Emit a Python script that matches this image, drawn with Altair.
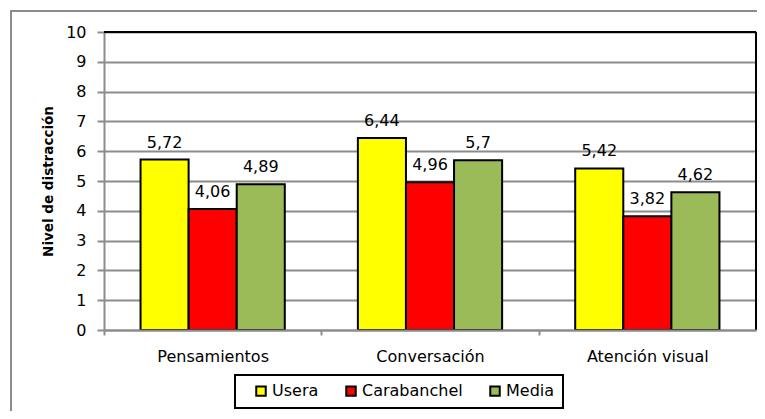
import altair as alt
import pandas as pd

categories = ["Pensamientos", "Conversación", "Atención visual"]
series = ["Usera", "Carabanchel", "Media"]
usera = [5.72, 6.44, 5.42]
carabanchel = [4.06, 4.96, 3.82]
media = [4.89, 5.70, 4.62]
colors = ["#FFFF00", "#FF0000", "#9BBB59"]
y_ticks = list(range(0, 11))

rows = []
for s, vals in zip(series, [usera, carabanchel, media]):
    for c, v in zip(categories, vals):
        rows.append({"categoria": c, "serie": s, "valor": v,
                     "etiqueta": f"{v:g}".replace(".", ",")})
df = pd.DataFrame(rows)

W, H = 652, 298
FONT = "DejaVu Sans"
GRAY = "#8c8c8c"

base = alt.Chart(df).encode(
    x=alt.X("categoria:N", sort=categories,
            scale=alt.Scale(paddingInner=0, paddingOuter=0),
            axis=alt.Axis(title=None, labelAngle=0, grid=False,
                          domainColor=GRAY, domainWidth=2,
                          tickColor=GRAY, tickWidth=2, tickSize=5,
                          tickOffset=-W / 6, labelOffset=W / 6,
                          labelPadding=13, labelFont=FONT, labelFontSize=16,
                          labelColor="black", zindex=1)),
    xOffset=alt.XOffset("serie:N", sort=series,
                        scale=alt.Scale(paddingInner=0, paddingOuter=0.76)),
    y=alt.Y("valor:Q", scale=alt.Scale(domain=[0, 10], nice=False),
            axis=alt.Axis(title="Nivel de distracción", values=y_ticks, format="d",
                          grid=True, gridColor=GRAY, gridWidth=2,
                          domainColor=GRAY, domainWidth=2,
                          tickColor=GRAY, tickWidth=2, tickSize=7,
                          labelPadding=11, labelFont=FONT, labelFontSize=16,
                          labelColor="black",
                          titleFont=FONT, titleFontWeight="bold", titleFontSize=13.5,
                          titleColor="black", titleX=-56, titleY=H / 2,
                          titleAngle=270, titleAlign="center",
                          titleBaseline="middle")),
)

bars = base.mark_bar(stroke="black", strokeWidth=2).encode(
    color=alt.Color("serie:N", sort=series,
                    scale=alt.Scale(domain=series, range=colors),
                    legend=alt.Legend(title=None, orient="none", legendX=131, legendY=343,
                                      direction="horizontal", symbolType="square",
                                      symbolSize=90, symbolStrokeColor="black",
                                      symbolStrokeWidth=2, labelFont=FONT,
                                      labelFontSize=16, labelColor="black",
                                      columnPadding=14, padding=8, labelOffset=3,
                                      symbolOffset=10,
                                      strokeColor="black", fillColor="white"))
)

text = base.mark_text(baseline="alphabetic", dy=-12, fontSize=16, font=FONT,
                      color="black").encode(text="etiqueta:N")

one = pd.DataFrame({"k": [0]})
frame = alt.Chart(one).mark_rect(fillOpacity=0, stroke=GRAY, strokeWidth=2).encode(
    x=alt.value(-93), x2=alt.value(680), y=alt.value(-21), y2=alt.value(420))
top_rule = alt.Chart(one).mark_rule(color="black", strokeWidth=2).encode(
    x=alt.value(0), x2=alt.value(W), y=alt.value(0))
right_rule = alt.Chart(one).mark_rule(color="black", strokeWidth=2).encode(
    x=alt.value(W), y=alt.value(0), y2=alt.value(H))

chart = alt.layer(frame, bars, text, top_rule, right_rule).properties(
    width=W, height=H,
    padding={"left": 96, "top": 24, "right": 1, "bottom": 81},
    autosize=alt.AutoSizeParams(type="none"),
    background="white",
).configure_view(stroke="transparent").configure_legend(strokeWidth=2)

chart.save("out.html", embed_options={"renderer": "svg", "actions": False})
